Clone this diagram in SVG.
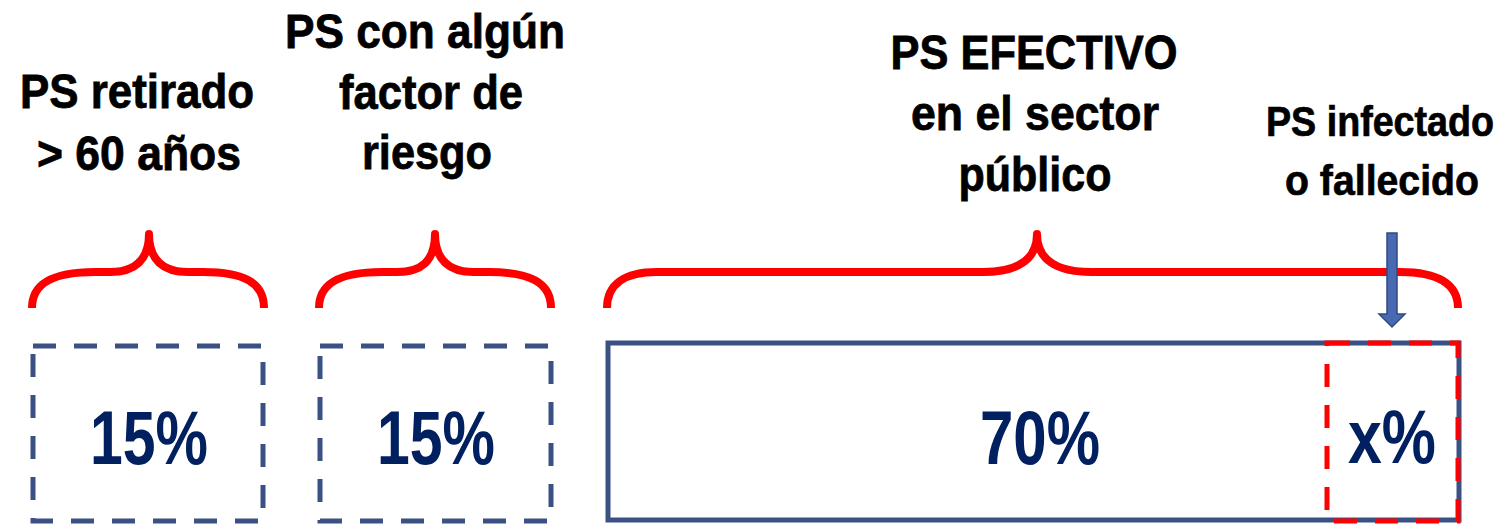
<svg xmlns="http://www.w3.org/2000/svg" width="1512" height="524" viewBox="0 0 1512 524">
<style>
.lbl{font-family:"Liberation Sans Narrow","Liberation Sans",Arial,sans-serif;font-weight:bold;font-size:49px;fill:#000;stroke:#000;stroke-width:0.8;text-anchor:middle}
.lbl2{font-family:"Liberation Sans Narrow","Liberation Sans",Arial,sans-serif;font-weight:bold;font-size:42px;fill:#000;stroke:#000;stroke-width:0.7;text-anchor:middle}
.pct{font-family:"Liberation Sans Narrow","Liberation Sans",Arial,sans-serif;font-weight:bold;font-size:76px;fill:#002060;text-anchor:middle}
.brace{fill:none;stroke:#FF0000;stroke-width:8;stroke-linejoin:round;stroke-linecap:butt}
.dbox{fill:none;stroke:#3B5185;stroke-width:5;stroke-dasharray:23 18}
.sbox{fill:none;stroke:#3B5185;stroke-width:5}
.rbox{fill:none;stroke:#FF0000;stroke-width:5;stroke-dasharray:23 18}
</style>
<rect width="1512" height="524" fill="#fff"/>
<g id="retirado">
<text class="lbl" x="137" y="108" textLength="234" lengthAdjust="spacingAndGlyphs">PS retirado</text>
<text class="lbl" x="139" y="170" textLength="204" lengthAdjust="spacingAndGlyphs">&gt; 60 años</text>
<path class="brace" d="M32,308 C32,282 55,272 95,272 L110,272 C135,272 149,260 149,234 C149,260 163,272 188,272 L203,272 C243,272 264,282 264,308"/>
<rect class="dbox" x="33" y="346" width="230" height="175"/>
<text class="pct" x="149" y="464" textLength="118" lengthAdjust="spacingAndGlyphs">15%</text>
</g>
<g id="riesgo">
<text class="lbl" x="425" y="48" textLength="280" lengthAdjust="spacingAndGlyphs">PS con algún</text>
<text class="lbl" x="431" y="109" textLength="184" lengthAdjust="spacingAndGlyphs">factor de</text>
<text class="lbl" x="427" y="169" textLength="130" lengthAdjust="spacingAndGlyphs">riesgo</text>
<path class="brace" d="M319,308 C319,282 342,272 382,272 L397,272 C422,272 435,260 435,234 C435,260 449,272 474,272 L489,272 C529,272 551,282 551,308"/>
<rect class="dbox" x="320" y="346" width="231" height="175"/>
<text class="pct" x="436" y="464" textLength="118" lengthAdjust="spacingAndGlyphs">15%</text>
</g>
<g id="efectivo">
<text class="lbl" x="1034" y="69" textLength="287" lengthAdjust="spacingAndGlyphs">PS EFECTIVO</text>
<text class="lbl" x="1035" y="130" textLength="248" lengthAdjust="spacingAndGlyphs">en el sector</text>
<text class="lbl" x="1035" y="191" textLength="153" lengthAdjust="spacingAndGlyphs">público</text>
<path class="brace" d="M607,308 C607,284 625,272 657,272 L983,272 C1017,272 1037,260 1037,234 C1037,260 1057,272 1091,272 L1400,272 C1438,272 1458,284 1458,308"/>
<rect class="sbox" x="608" y="343" width="851" height="177"/>
<text class="pct" x="1040" y="464" textLength="120" lengthAdjust="spacingAndGlyphs">70%</text>
</g>
<g id="infectado">
<text class="lbl2" x="1380" y="136" textLength="228" lengthAdjust="spacingAndGlyphs">PS infectado</text>
<text class="lbl2" x="1382" y="195" textLength="194" lengthAdjust="spacingAndGlyphs">o fallecido</text>
<rect class="rbox" x="1327" y="343" width="131" height="178"/>
<text class="pct" x="1392" y="463" textLength="88" lengthAdjust="spacingAndGlyphs">x%</text>
</g>
<g id="connectors">
<path d="M1387,233 H1397 V314 H1405 L1392,327 L1379,314 H1387 Z" fill="#4A69B3" stroke="#2F4A80" stroke-width="1.5"/>
</g>
</svg>
